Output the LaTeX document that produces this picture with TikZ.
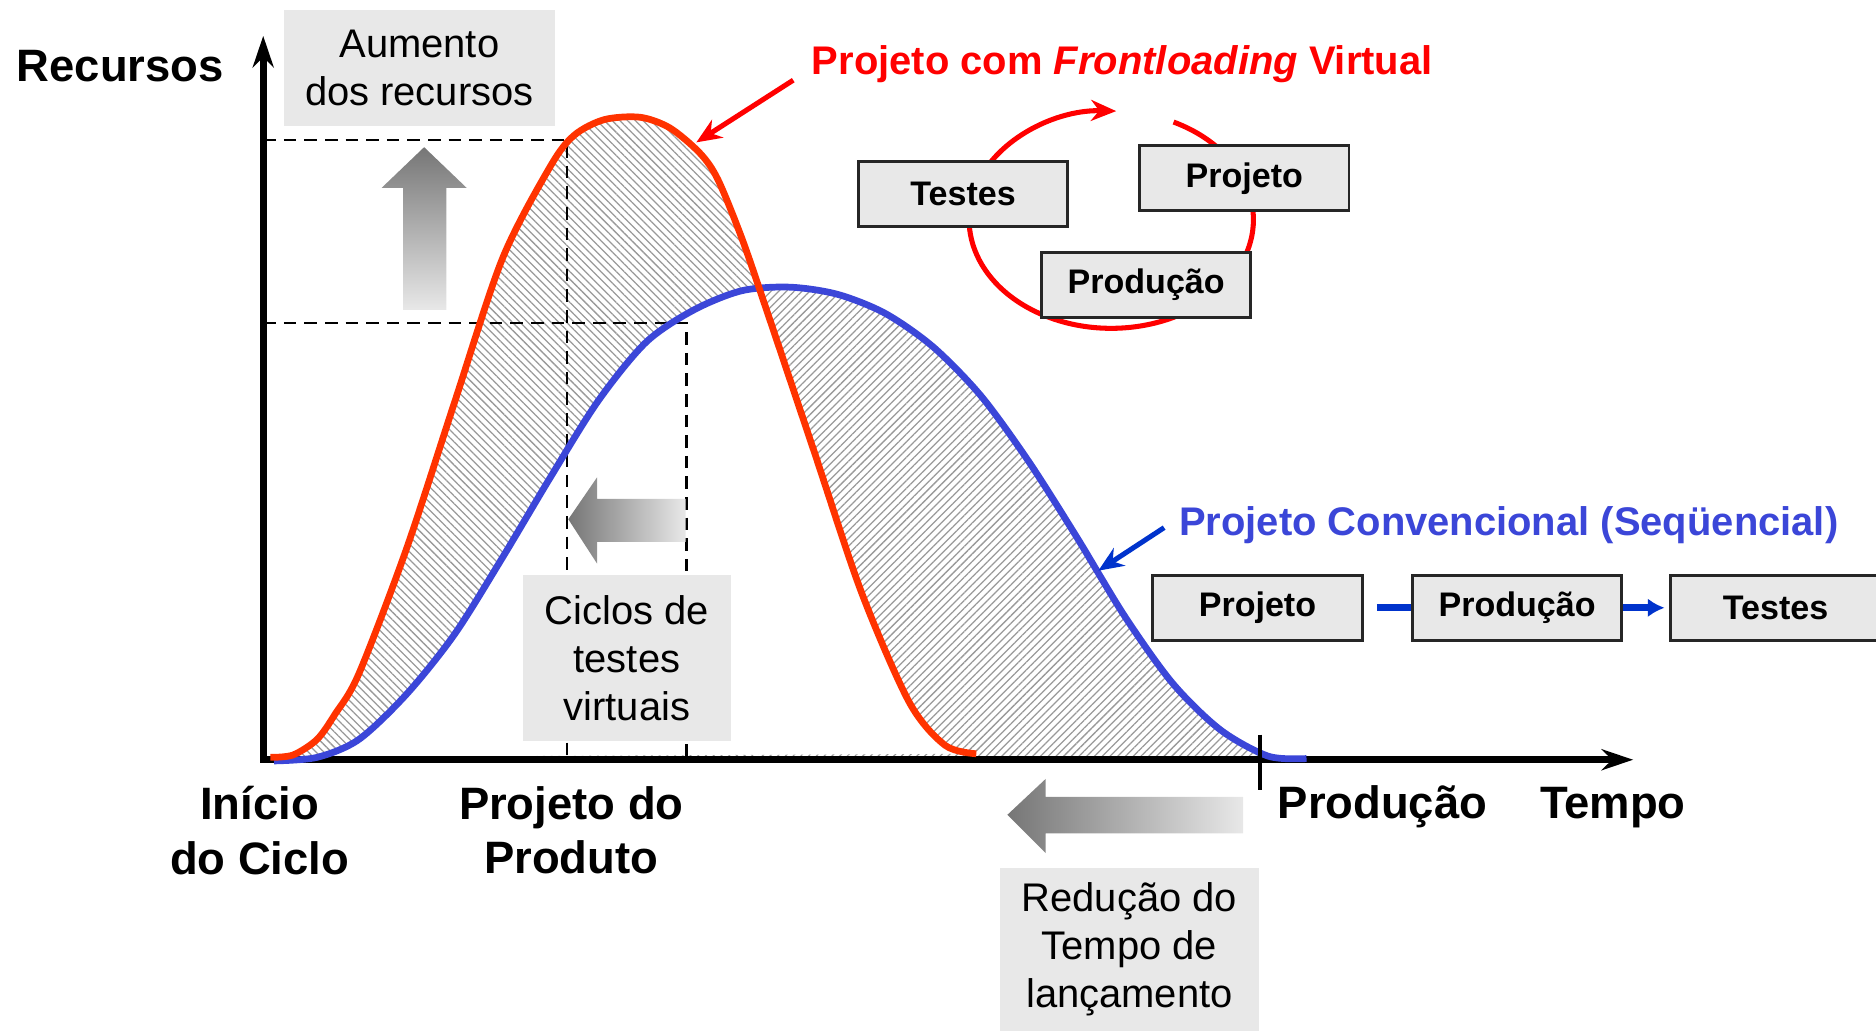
\documentclass[tikz,border=0pt]{standalone}
\usepackage{fontspec}
\setmainfont{Liberation Sans}
\usetikzlibrary{arrows.meta,patterns.meta}
\definecolor{curvered}{HTML}{FF3300}
\definecolor{titlered}{HTML}{FF0000}
\definecolor{curveblue}{HTML}{3B46D8}
\definecolor{pointerblue}{HTML}{0033CC}
\definecolor{notegray}{HTML}{E8E8E8}
\definecolor{shadedark}{HTML}{767676}
\definecolor{shadelight}{HTML}{E8E8E8}
\newcommand{\redplot}{plot[smooth, tension = 0.5] coordinates {(2.26,2.29) (2.45,2.31) (2.65,2.44) (2.80,2.65) (3.00,2.99) (3.40,4.04) (3.80,5.26) (4.20,6.46) (4.60,7.23) (4.80,7.49) (5.05,7.62) (5.35,7.64) (5.60,7.55) (5.85,7.34) (6.00,7.12) (6.20,6.63) (6.40,6.05) (6.80,4.86) (7.20,3.67) (7.60,2.75) (7.90,2.39) (8.16,2.32)}}
\newcommand{\blueplot}{plot[smooth, tension = 0.5] coordinates {(2.29,2.26) (2.65,2.29) (3.00,2.44) (3.40,2.82) (3.80,3.32) (4.20,3.96) (4.60,4.63) (5.00,5.27) (5.40,5.76) (5.80,6.03) (6.20,6.19) (6.60,6.22) (7.00,6.16) (7.40,6.00) (7.80,5.72) (8.20,5.31) (8.60,4.76) (9.00,4.13) (9.40,3.47) (9.80,2.91) (10.20,2.52) (10.60,2.30) (10.92,2.28)}}
\begin{document}
\begin{tikzpicture}[scale = 1,
            axis/.style = {line width = 1.6pt, {Stealth[length = 7.5pt, width = 5pt, inset = 2.5pt]}-{Stealth[length = 7.5pt, width = 5pt, inset = 2.5pt]}},
            guide/.style = {line width = 0.65pt, dash pattern = on 3pt off 1.9pt},
            hatchleft/.style = {pattern = {Lines[angle = -45, distance = 1.3pt, line width = 0.3pt]}, pattern color = gray!80},
            hatchright/.style = {pattern = {Lines[angle = 45, distance = 1.3pt, line width = 0.3pt]}, pattern color = gray!80},
            curve/.style = {line width = 1.6pt},
            pointer/.style = {line width = 1.2pt, -{Stealth[length = 6pt, width = 5pt]}},
            cyclearc/.style = {color = titlered, line width = 1.2pt, -{Stealth[length = 6pt, width = 5pt]}},
            seqline/.style = {color = pointerblue, line width = 1.6pt},
            procbox/.style = {draw = black!85, line width = 0.7pt, fill = notegray, minimum width = 1.75cm, minimum height = 0.54cm, inner sep = 0pt, font = \fontsize{8.1}{9.7}\selectfont\bfseries},
            note/.style = {fill = notegray, align = center, inner sep = 0pt, font = \fontsize{9.5}{11.4}\selectfont},
            axislabel/.style = {align = center, inner sep = 0pt, font = \fontsize{10.8}{13}\selectfont\bfseries},
            titlelabel/.style = {inner sep = 0pt, font = \fontsize{9.5}{11.4}\selectfont\bfseries}
        ]
            \useasboundingbox (0,0) rectangle (15.68,8.62);
            \coordinate (O) at (2.20,2.27);
            \coordinate (ytop) at (2.20,8.32);
            \coordinate (xend) at (13.65,2.27);
            \coordinate (redpt) at (4.74,7.45);
            \coordinate (bluept) at (5.74,5.92);
            \begin{scope}
                \clip (0,0) rectangle (6.34,8.62);
                \fill[hatchleft, even odd rule] \redplot \blueplot;
            \end{scope}
            \begin{scope}
                \clip (6.34,0) rectangle (15.68,8.62);
                \fill[hatchright, even odd rule] \redplot \blueplot;
            \end{scope}
            \draw[guide] (redpt -| O) -- (redpt) -- (redpt |- O);
            \draw[guide] (bluept -| O) -- (bluept) -- (bluept |- O);
            \draw[axis] (ytop) -- (O) -- (xend);
            \draw[curve, color = curveblue] \blueplot;
            \draw[curve, color = curvered] \redplot;
            \coordinate (ticktop) at (10.53,2.48);
            \coordinate (tickbot) at (10.53,2.02);
            \draw[line width = 0.8pt] (ticktop) -- (tickbot);
            \shade[top color = shadedark, bottom color = shadelight] (3.37,6.03) -- (3.73,6.03) -- (3.73,7.05) -- (3.90,7.05) -- (3.545,7.39) -- (3.19,7.05) -- (3.37,7.05) -- cycle;
            \shade[left color = shadedark, right color = shadelight] (4.75,4.28) -- (4.99,4.63) -- (4.99,4.45) -- (5.73,4.45) -- (5.73,4.09) -- (4.99,4.09) -- (4.99,3.91) -- cycle;
            \shade[left color = shadedark, right color = shadelight] (8.42,1.81) -- (8.74,2.11) -- (8.74,1.96) -- (10.39,1.96) -- (10.39,1.655) -- (8.74,1.655) -- (8.74,1.49) -- cycle;
            \node[note, minimum width = 2.27cm, minimum height = 0.97cm] (aumento) at (3.505,8.055) {Aumento\\dos recursos};
            \node[note, minimum width = 1.74cm, minimum height = 1.39cm] (ciclos) at (5.24,3.12) {Ciclos de\\testes\\virtuais};
            \node[note, minimum width = 2.16cm, minimum height = 1.36cm] (reducao) at (9.44,0.685) {Redução do\\Tempo de\\lançamento};
            \node[axislabel, anchor = base] (recursos) at (1.005,7.94) {Recursos};
            \node[axislabel] (inicio) at (2.17,1.68) {Início\\do Ciclo};
            \node[axislabel] (projprod) at (4.775,1.68) {Projeto do\\Produto};
            \node[axislabel, anchor = base] (producao) at (11.555,1.775) {Produção};
            \node[axislabel, anchor = base] (tempo) at (13.48,1.775) {Tempo};
            \node[titlelabel, text = titlered, anchor = base] (frontload) at (9.38,8.00) {Projeto com \textit{Frontloading} Virtual};
            \node[titlelabel, text = curveblue, anchor = base] (convencional) at (12.61,4.148) {Projeto Convencional (Seqüencial)};
            \coordinate (redtail) at (6.63,7.95);
            \coordinate (redtip) at (5.82,7.43);
            \draw[pointer, color = titlered] (redtail) -- (redtip);
            \coordinate (bluetail) at (9.73,4.21);
            \coordinate (bluetip) at (9.18,3.85);
            \draw[pointer, color = pointerblue] (bluetail) -- (bluetip);
            \coordinate (cyc) at (9.288,6.784);
            \draw[cyclearc] (cyc) ++(64:1.188 and 0.908) arc[start angle = 64, end angle = -272, x radius = 1.188, y radius = 0.908];
            \foreach \name/\x/\y/\txt in {ctest/8.05/7.00/Testes, cproj/10.40/7.13/Projeto, cprod/9.58/6.24/Produção, sproj/10.51/3.54/Projeto, sprod/12.68/3.54/Produção, stest/14.84/3.54/Testes} {
                \node[procbox] (\name) at (\x,\y) {\txt};
            }
            \draw[seqline, shorten <= 1.1mm] (sproj) -- (sprod);
            \draw[seqline, -{Latex[length = 4pt, width = 4.5pt]}, shorten >= 0.4mm] (sprod) -- (stest);
        \end{tikzpicture}
\end{document}
